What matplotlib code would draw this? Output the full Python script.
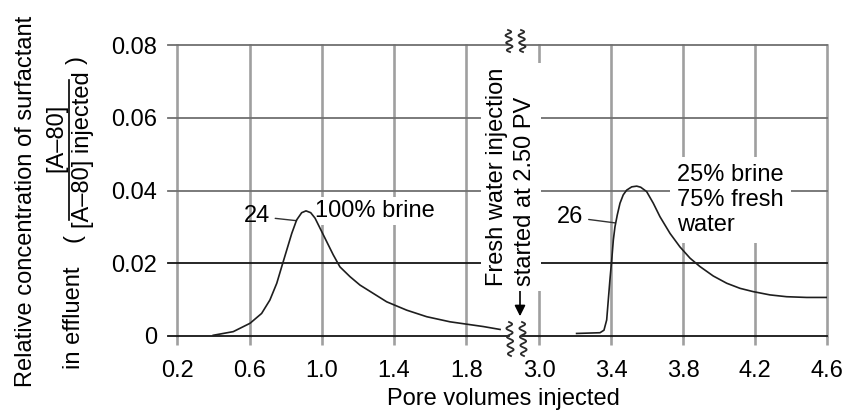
import matplotlib
matplotlib.use('Agg')
import matplotlib.pyplot as plt
from matplotlib.lines import Line2D
from matplotlib.patches import FancyArrowPatch
import numpy as np

plt.rcParams['font.family'] = ['Liberation Sans', 'DejaVu Sans']

# ---------------- data ----------------
x_left_ticks = [0.2, 0.6, 1.0, 1.4, 1.8]
x_right_ticks = [3.0, 3.4, 3.8, 4.2, 4.6]
x_left_labels = ['0.2', '0.6', '1.0', '1.4', '1.8']
x_right_labels = ['3.0', '3.4', '3.8', '4.2', '4.6']
y_ticks = [0, 0.02, 0.04, 0.06, 0.08]
y_tick_labels = ['0', '0.02', '0.04', '0.06', '0.08']

# Run 24 (100% brine)
run24_pv = [0.398, 0.509, 0.602, 0.666, 0.712, 0.750, 0.777, 0.805, 0.833, 0.860,
            0.888, 0.912, 0.938, 0.962, 0.990, 1.027, 1.063, 1.100, 1.156, 1.211,
            1.285, 1.359, 1.470, 1.581, 1.710, 1.894, 1.987]
run24_conc = [0.0002, 0.0012, 0.0035, 0.0062, 0.0099, 0.0145, 0.0190, 0.0236, 0.0282, 0.0319,
              0.0339, 0.0344, 0.0339, 0.0324, 0.0296, 0.0259, 0.0223, 0.0190, 0.0163, 0.0140,
              0.0117, 0.0094, 0.0071, 0.0053, 0.0039, 0.0026, 0.0018]

# Run 26 (25% brine / 75% fresh water)
run26_pv = [3.209, 3.339, 3.361, 3.376, 3.385, 3.394, 3.404, 3.413, 3.422, 3.435,
            3.450, 3.468, 3.487, 3.515, 3.543, 3.565, 3.598, 3.635, 3.672, 3.728,
            3.783, 3.839, 3.894, 3.968, 4.043, 4.117, 4.190, 4.283, 4.376, 4.487, 4.598]
run26_conc = [0.0007, 0.0009, 0.0016, 0.0044, 0.0099, 0.0154, 0.0209, 0.0264, 0.0300, 0.0333,
              0.0365, 0.0388, 0.0401, 0.0410, 0.0412, 0.0409, 0.0397, 0.0365, 0.0328, 0.0282,
              0.0245, 0.0214, 0.0191, 0.0165, 0.0145, 0.0131, 0.0122, 0.0113, 0.0108, 0.0106,
              0.0106]

# ---------------- layout ----------------
W, H, DPI = 848, 412, 100
fig = plt.figure(figsize=(W / DPI, H / DPI), dpi=DPI)


def fx(px):
    return np.asarray(px) / W


def fy(py):
    return 1 - np.asarray(py) / H


Y0, YT = 336, 45
axL = fig.add_axes([fx(168), fy(Y0), (509 - 168) / W, (Y0 - YT) / H])
axR = fig.add_axes([fx(522), fy(Y0), (827 - 522) / W, (Y0 - YT) / H])
axL.set_xlim(0.1474, 2.0366)
axR.set_xlim(2.9056, 4.6)

FS = 17
VGREY = '#9f9f9f'
for ax, ticks, labels in [(axL, x_left_ticks, x_left_labels), (axR, x_right_ticks, x_right_labels)]:
    ax.set_ylim(0, 0.08)
    ax.patch.set_visible(False)
    for s in ax.spines.values():
        s.set_visible(False)
    ax.set_xticks(ticks, labels)
    ax.grid(axis='x', color=VGREY, lw=1.9)
    for gl in ax.get_xgridlines():
        gl.set_clip_on(False)
    ax.tick_params(axis='x', direction='out', length=6.5, width=1.9, color=VGREY,
                   pad=11, labelsize=FS)
    for yv in y_ticks:
        c = '#151515' if yv <= 0.02 else '#707070'
        ax.axhline(yv, color=c, lw=1.3, clip_on=False, zorder=2)

axL.set_yticks(y_ticks, y_tick_labels)
axL.tick_params(axis='y', length=0, pad=8, labelsize=FS)
axR.set_yticks([])

axL.plot(run24_pv, run24_conc, color='#1e1e1e', lw=1.2, zorder=4)
axR.plot(run26_pv, run26_conc, color='#1e1e1e', lw=1.2, zorder=4)

# ---------------- annotations ----------------
axL.annotate('24', xy=(0.86, 0.0317), xytext=(0.638, 0.0329), ha='center', va='center',
             fontsize=FS, arrowprops=dict(arrowstyle='-', lw=1.0, color='#333333', shrinkA=2, shrinkB=0))
axL.text(0.962, 0.0327, '100% brine', ha='left', va='baseline', fontsize=FS, zorder=3,
         bbox=dict(boxstyle='square,pad=0.12', fc='white', ec='none'))

axR.annotate('26', xy=(3.422, 0.0311), xytext=(3.172, 0.0327), ha='center', va='center',
             fontsize=FS, arrowprops=dict(arrowstyle='-', lw=1.0, color='#333333', shrinkA=2, shrinkB=0))
axR.text(3.767, 0.0374, '25% brine\n75% fresh\nwater', ha='left', va='center', fontsize=FS,
         zorder=3, linespacing=1.15, bbox=dict(boxstyle='square,pad=0.3', fc='white', ec='none'))

fig.text(fx(511), fy(286), 'Fresh water injection\nstarted at 2.50 PV', rotation=90,
         ha='center', va='bottom', multialignment='left', fontsize=FS, linespacing=1.4,
         bbox=dict(boxstyle='square,pad=0.2', fc='white', ec='none'), zorder=5)
fig.add_artist(FancyArrowPatch((fx(520), fy(288)), (fx(520), fy(319)), transform=fig.transFigure,
                               arrowstyle='-|>', mutation_scale=16, color='black', lw=1.2))


def zigzag(xc, ytop, ybot, n, amp=3.0):
    t = np.linspace(0, 1, 120)
    ys = ytop + t * (ybot - ytop)
    xs = xc + amp * np.sin(2 * np.pi * n * t) + 2.0 * (t - 0.5)
    fig.add_artist(Line2D(fx(xs), fy(ys), transform=fig.transFigure, color='#2a2a2a', lw=1.3))


zigzag(509, 30, 52, 3)
zigzag(522, 30, 52, 3)
zigzag(510, 322, 356, 4)
zigzag(523, 322, 356, 4)

# x label
fig.text(fx(503.5), fy(399), 'Pore volumes injected', ha='center', va='center', fontsize=FS)

# y label (two lines, second with fraction)
fig.text(fx(26), fy(201), 'Relative concentration of surfactant', rotation=90,
         ha='center', va='center', fontsize=FS)
fig.text(fx(74), fy(318), 'in effluent', rotation=90, ha='center', va='center', fontsize=FS)
fig.text(fx(74), fy(238), '(', rotation=90, ha='center', va='center', fontsize=FS)
fig.text(fx(56), fy(138), '[A\u201380]', rotation=90, ha='center', va='center', fontsize=FS)
fig.add_artist(Line2D([fx(69), fx(69)], [fy(80), fy(220)], transform=fig.transFigure,
                      color='black', lw=1.2))
fig.text(fx(83), fy(150), '[A\u201380] injected', rotation=90, ha='center', va='center', fontsize=FS)
fig.text(fx(77), fy(60), ')', rotation=90, ha='center', va='center', fontsize=FS)

fig.savefig('out.png', dpi=DPI)
